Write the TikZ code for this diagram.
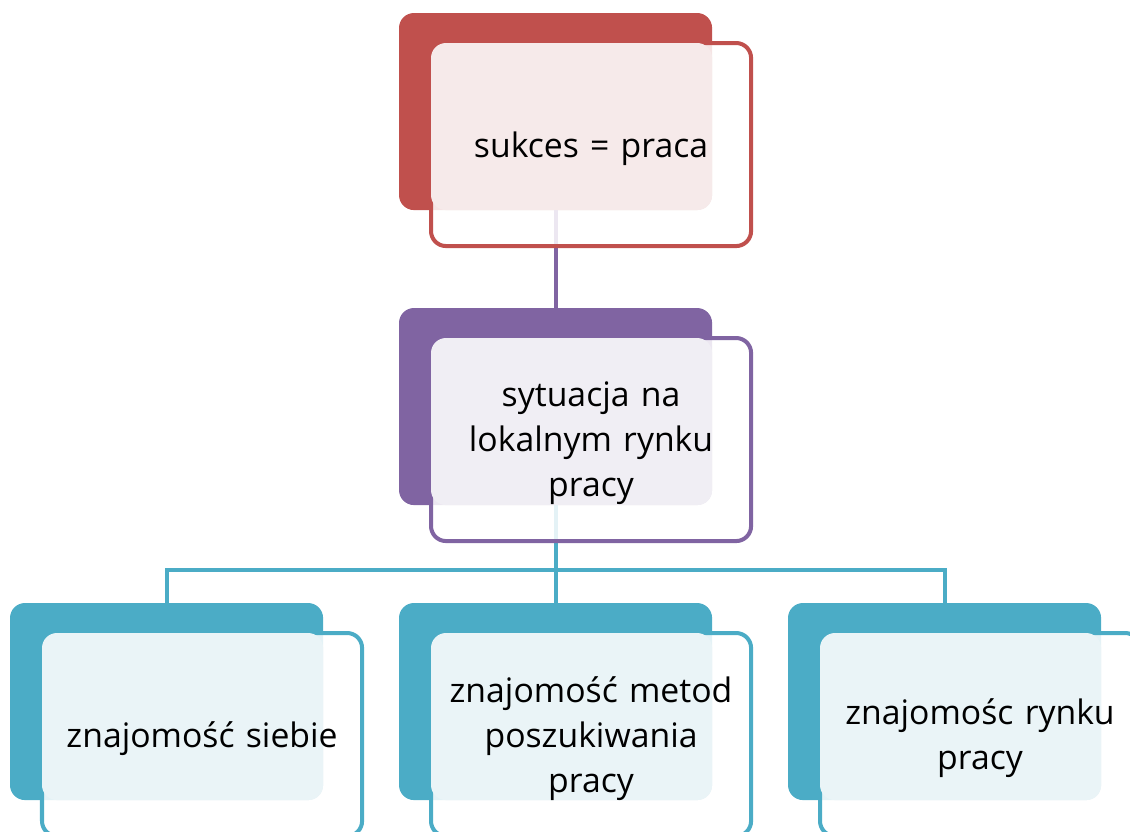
\documentclass[tikz,border=0pt]{standalone}
\usepackage{fontspec}
\setmainfont{Open Sans}
\usepackage{tikz}
\usetikzlibrary{fit, backgrounds}
\definecolor{redbox}{HTML}{C0504D}
\definecolor{redtint}{HTML}{F6EAEA}
\definecolor{violetbox}{HTML}{8064A2}
\definecolor{violettint}{HTML}{F0EEF4}
\definecolor{tealbox}{HTML}{4BACC6}
\definecolor{tealtint}{HTML}{EAF4F7}
\tikzstyle{back} = [rectangle, rounded corners=0.375cm, minimum width=7.825cm, minimum height=4.925cm, anchor=north west, inner sep=0pt, outer sep=0pt]
\tikzstyle{frame} = [rectangle, rounded corners=0.375cm, minimum width=8cm, minimum height=5.075cm, anchor=north west, line width=0.1cm, fill=white, fill opacity=0.85, inner sep=0pt, outer sep=0pt]
\tikzstyle{tint} = [rectangle, rounded corners=0.375cm, inner sep=0pt, outer sep=0pt]
\tikzstyle{boxtext} = [text width=7.8cm, align=center, font=\fontsize{24}{32}\selectfont]
\tikzstyle{link} = [line width=0.1cm]

\begin{document}
\begin{tikzpicture}[x=0.025cm, y=-0.025cm]

    \useasboundingbox (0,0) rectangle (1130,831);

    % coloured cards behind
    \node (top-back) [back, fill=redbox] at (399,13) {};
    \node (mid-back) [back, fill=violetbox] at (399,308) {};
    \node (left-back) [back, fill=tealbox] at (10,603) {};
    \node (centre-back) [back, fill=tealbox] at (399,603) {};
    \node (right-back) [back, fill=tealbox] at (788,603) {};

    % tree lines
    \draw [link, violetbox] (top-back.south) -- (mid-back.north);
    \draw [link, tealbox] (mid-back.south) -- ++(0,65) coordinate (split);
    \draw [link, tealbox] (split) -| (left-back.north);
    \draw [link, tealbox] (split) -- (centre-back.north);
    \draw [link, tealbox] (split) -| (right-back.north);

    % outlined cards in front
    \node (top-frame) [frame, draw=redbox] at ([shift={(32,30)}]top-back.north west) {};
    \node (mid-frame) [frame, draw=violetbox] at ([shift={(32,30)}]mid-back.north west) {};
    \node (left-frame) [frame, draw=tealbox] at ([shift={(32,30)}]left-back.north west) {};
    \node (centre-frame) [frame, draw=tealbox] at ([shift={(32,30)}]centre-back.north west) {};
    \node (right-frame) [frame, draw=tealbox] at ([shift={(32,30)}]right-back.north west) {};

    \node (top-tint) [tint, fill=redtint, fit=(top-frame.north west)(top-back.south east)] {};
    \node (mid-tint) [tint, fill=violettint, fit=(mid-frame.north west)(mid-back.south east)] {};
    \node (left-tint) [tint, fill=tealtint, fit=(left-frame.north west)(left-back.south east)] {};
    \node (centre-tint) [tint, fill=tealtint, fit=(centre-frame.north west)(centre-back.south east)] {};
    \node (right-tint) [tint, fill=tealtint, fit=(right-frame.north west)(right-back.south east)] {};

    \node (top-text) [boxtext] at ([shift={(0,4)}]top-frame.center) {sukces = praca};
    \node (mid-text) [boxtext] at ([shift={(0,4)}]mid-frame.center) {sytuacja na\\lokalnym rynku\\pracy};
    \node (left-text) [boxtext] at ([shift={(0,4)}]left-frame.center) {znajomość siebie};
    \node (centre-text) [boxtext] at ([shift={(0,4)}]centre-frame.center) {znajomość metod\\poszukiwania\\pracy};
    \node (right-text) [boxtext] at ([shift={(0,4)}]right-frame.center) {znajomośc rynku\\pracy};

\end{tikzpicture}
\end{document}
